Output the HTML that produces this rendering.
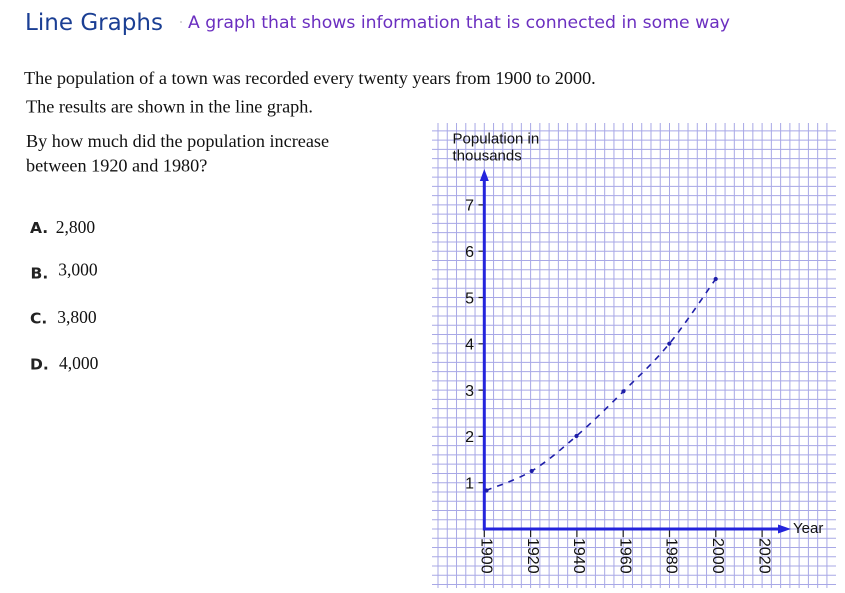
<!DOCTYPE html>
<html>
<head>
<meta charset="utf-8">
<style>
html,body{margin:0;padding:0;background:#fff;}
body{width:845px;height:593px;overflow:hidden;}
svg{display:block;}
</style>
</head>
<body>
<svg width="845" height="593" viewBox="0 0 845 593" xmlns="http://www.w3.org/2000/svg">
<rect width="845" height="593" fill="#fff"/>

<!-- Header -->
<text x="25" y="30" font-family="DejaVu Sans, Liberation Sans, sans-serif" font-size="23" fill="#1b3f94" textLength="138" lengthAdjust="spacingAndGlyphs">Line Graphs</text>
<circle cx="181" cy="22" r="0.9" fill="#bbb"/>
<text x="188" y="28" font-family="DejaVu Sans, Liberation Sans, sans-serif" font-size="17" fill="#6b2fc0" textLength="542" lengthAdjust="spacingAndGlyphs">A graph that shows information that is connected in some way</text>

<!-- Body text -->
<g font-family="Liberation Serif, serif" font-size="18.2" fill="#111">
<text x="24" y="84">The population of a town was recorded every twenty years from 1900 to 2000.</text>
<text x="26" y="112.5">The results are shown in the line graph.</text>
<text x="26" y="147">By how much did the population increase</text>
<text x="26" y="171.5">between 1920 and 1980?</text>
</g>

<!-- Options -->
<g font-family="DejaVu Sans, Liberation Sans, sans-serif" font-size="15.5" font-weight="bold" fill="#222">
<text x="30" y="233">A.</text>
<text x="30.5" y="278.5">B.</text>
<text x="30" y="323.5">C.</text>
<text x="30" y="369.5">D.</text>
</g>
<g font-family="Liberation Serif, serif" font-size="17.5" fill="#111">
<text x="55.7" y="233">2,800</text>
<text x="58.3" y="275.5">3,000</text>
<text x="57.3" y="323">3,800</text>
<text x="59" y="369">4,000</text>
</g>

<!-- Grid -->
<g stroke="#a8a8e6" stroke-width="1" fill="none">
<path d="M438 123V588M447.26 123V588M456.52 123V588M465.78 123V588M475.04 123V588M484.3 123V588M493.56 123V588M502.82 123V588M512.08 123V588M521.34 123V588M530.6 123V588M539.86 123V588M549.12 123V588M558.38 123V588M567.64 123V588M576.9 123V588M586.16 123V588M595.42 123V588M604.68 123V588M613.94 123V588M623.2 123V588M632.46 123V588M641.72 123V588M650.98 123V588M660.24 123V588M669.5 123V588M678.76 123V588M688.02 123V588M697.28 123V588M706.54 123V588M715.8 123V588M725.06 123V588M734.32 123V588M743.58 123V588M752.84 123V588M762.1 123V588M771.36 123V588M780.62 123V588M789.88 123V588M799.14 123V588M808.4 123V588M817.66 123V588M826.92 123V588"/>
<path d="M432 584.56H836M432 575.3H836M432 566.04H836M432 556.78H836M432 547.52H836M432 538.26H836M432 529H836M432 519.74H836M432 510.48H836M432 501.22H836M432 491.96H836M432 482.7H836M432 473.44H836M432 464.18H836M432 454.92H836M432 445.66H836M432 436.4H836M432 427.14H836M432 417.88H836M432 408.62H836M432 399.36H836M432 390.1H836M432 380.84H836M432 371.58H836M432 362.32H836M432 353.06H836M432 343.8H836M432 334.54H836M432 325.28H836M432 316.02H836M432 306.76H836M432 297.5H836M432 288.24H836M432 278.98H836M432 269.72H836M432 260.46H836M432 251.2H836M432 241.94H836M432 232.68H836M432 223.42H836M432 214.16H836M432 204.9H836M432 195.64H836M432 186.38H836M432 177.12H836M432 167.86H836M432 158.6H836M432 149.34H836M432 140.08H836M432 130.82H836"/>
</g>

<!-- Axis title -->
<g font-family="Liberation Sans, Arial, sans-serif" font-size="15" fill="#111">
<text x="452.5" y="143.5">Population in</text>
<text x="452.5" y="160.5">thousands</text>
<text x="793" y="533">Year</text>
</g>

<!-- Ticks -->
<g stroke="#222" stroke-width="1.2">
<path d="M478.5 482.7H484.3M478.5 436.4H484.3M478.5 390.1H484.3M478.5 343.8H484.3M478.5 297.5H484.3M478.5 251.2H484.3M478.5 204.9H484.3"/>
<path d="M530.6 529V537M576.9 529V537M623.2 529V537M669.5 529V537M715.8 529V537M762.1 529V537M484.3 529V537"/>
</g>

<!-- Axes -->
<g stroke="#2424dc" stroke-width="3" fill="none">
<line x1="484.3" y1="530.5" x2="484.3" y2="179"/>
<line x1="483" y1="529" x2="780" y2="529"/>
</g>
<polygon points="484.3,169 479.8,181 488.8,181" fill="#2424dc"/>
<polygon points="791,529 778,524.5 778,533.5" fill="#2424dc"/>

<!-- Y labels -->
<g font-family="Liberation Sans, Arial, sans-serif" font-size="16" fill="#111" text-anchor="end">
<text x="474" y="488.5">1</text>
<text x="474" y="442.2">2</text>
<text x="474" y="395.9">3</text>
<text x="474" y="349.6">4</text>
<text x="474" y="303.3">5</text>
<text x="474" y="257">6</text>
<text x="474" y="210.7">7</text>
</g>

<!-- X labels rotated -->
<g font-family="Liberation Sans, Arial, sans-serif" font-size="16" fill="#111">
<text transform="translate(481.5,538) rotate(90)">1900</text>
<text transform="translate(527.8,538) rotate(90)">1920</text>
<text transform="translate(574.1,538) rotate(90)">1940</text>
<text transform="translate(620.4,538) rotate(90)">1960</text>
<text transform="translate(666.7,538) rotate(90)">1980</text>
<text transform="translate(713,538) rotate(90)">2000</text>
<text transform="translate(759.3,538) rotate(90)">2020</text>
</g>

<!-- Data line -->
<path d="M486 490.5C493.6 487.25 516.6 480.1 531.7 471C546.8 461.9 561.2 449.3 576.5 436C591.8 422.7 608 406.7 623.5 391.3C639 375.9 653.9 362.4 669.3 343.7C684.7 325 708 289.8 715.7 279" fill="none" stroke="#1f1fa8" stroke-width="1.6" stroke-dasharray="6 6"/>
<g fill="#1e1ea8">
<circle cx="486.5" cy="490.5" r="2.1"/>
<circle cx="531.7" cy="471" r="2.1"/>
<circle cx="576.5" cy="436" r="2.1"/>
<circle cx="623.5" cy="391.3" r="2.1"/>
<circle cx="669.3" cy="343.7" r="2.1"/>
<circle cx="715.7" cy="279" r="2.1"/>
</g>
</svg>
</body>
</html>
